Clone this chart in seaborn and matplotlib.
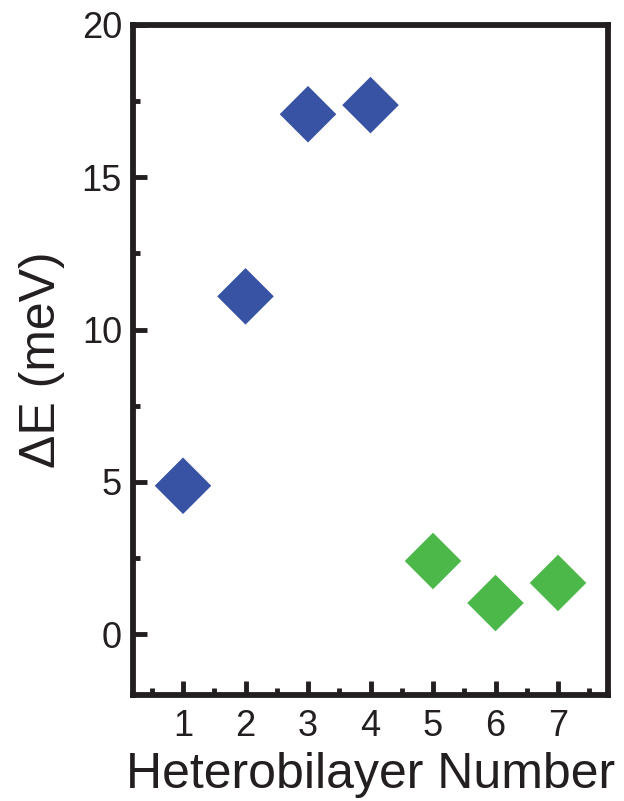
import matplotlib
matplotlib.use("Agg")
import matplotlib.pyplot as plt
import seaborn as sns
import pandas as pd
from matplotlib.ticker import MultipleLocator

layers = [1, 2, 3, 4, 5, 6, 7]
delta_e = [4.87, 11.09, 17.07, 17.37, 2.40, 1.02, 1.68]
groups = ["A", "A", "A", "A", "B", "B", "B"]
palette = {"A": "#3953a4", "B": "#4cb84a"}

df = pd.DataFrame({"layer": layers, "dE": delta_e, "group": groups})

sns.set_theme(style="white")
plt.rcParams["font.family"] = ["Liberation Sans", "DejaVu Sans"]

fig = plt.figure(figsize=(6.24, 8.01), dpi=100)
ax = fig.add_axes([133/624, 1 - 695/801, (608-133)/624, (695-25)/801])

sns.scatterplot(data=df, x="layer", y="dE", hue="group", palette=palette,
                marker="D", s=830, linewidth=0, legend=False, ax=ax)

ax.set_xlim(0.2, 7.8)
ax.set_ylim(-2, 20)
ax.xaxis.set_major_locator(MultipleLocator(1))
ax.xaxis.set_minor_locator(MultipleLocator(0.5))
ax.yaxis.set_major_locator(MultipleLocator(5))
ax.yaxis.set_minor_locator(MultipleLocator(2.5))

for sp in ax.spines.values():
    sp.set_linewidth(4.2)
    sp.set_color("#231f20")

ax.tick_params(which="both", direction="in", top=False, right=False,
               bottom=True, left=True,
               color="#231f20", width=3.5, labelsize=26, labelcolor="#231f20")
ax.tick_params(which="major", length=10, pad=8)
ax.tick_params(which="minor", length=5)
ax.tick_params(axis="x", which="major", pad=10)

ax.set_xlabel("Heterobilayer Number", fontsize=36, color="#231f20", labelpad=6)
ax.set_ylabel("ΔE (meV)", fontsize=36, color="#231f20", labelpad=12)

fig.savefig("out.png", dpi=100)
